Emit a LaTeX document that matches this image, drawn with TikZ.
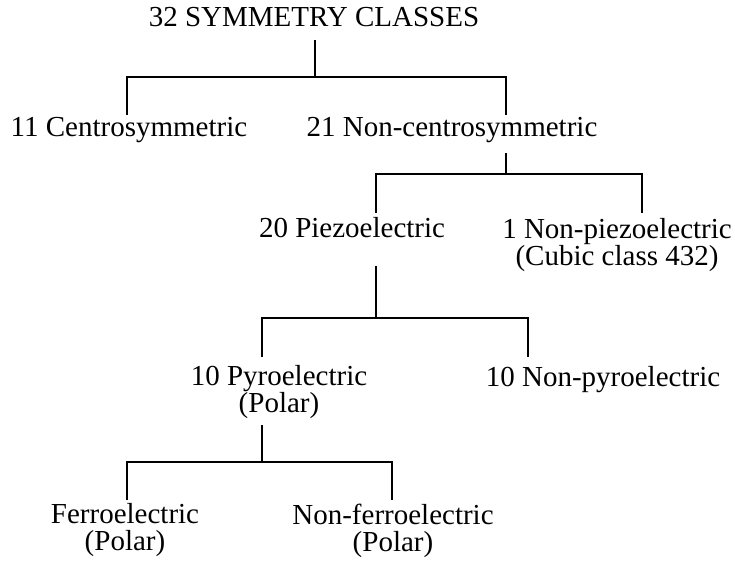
\documentclass[tikz,border=0pt]{standalone}
\usepackage{fontspec}
\setmainfont{Liberation Serif}

\tikzset{
  cls/.style = {inner sep = 0pt, anchor = base, align = center, font = \fontsize{29}{27}\selectfont},
  branch/.style = {black, line width = 2.2pt}
}

\begin{document}
\begin{tikzpicture}[x = 1pt, y = -1pt]
\useasboundingbox (0,0) rectangle (735,561);
% class labels (two-line labels sit on their last baseline)
\node [cls] (title) at (314,27) {32 SYMMETRY CLASSES};
\node [cls] (centro) at (129,137) {11 Centrosymmetric};
\node [cls] (noncentro) at (452,137) {21 Non-centrosymmetric};
\node [cls] (piezo) at (352,237) {20 Piezoelectric};
\node [cls] (nonpiezo) at (617,265) {1 Non-piezoelectric\\(Cubic class 432)};
\node [cls] (pyro) at (279,412) {10 Pyroelectric\\(Polar)};
\node [cls] (nonpyro) at (603,386) {10 Non-pyroelectric};
\node [cls] (ferro) at (125,550) {Ferroelectric\\(Polar)};
\node [cls] (nonferro) at (393,551) {Non-ferroelectric\\(Polar)};
% stems and junctions
\coordinate (t1) at (315,40);  \coordinate (j1) at (315,77);
\coordinate (t2) at (506,153); \coordinate (j2) at (506,174);
\coordinate (t3) at (376,266); \coordinate (j3) at (376,318);
\coordinate (t4) at (262,425); \coordinate (j4) at (262,462);
% leaf ends
\coordinate (e1) at (127,115); \coordinate (e2) at (506,115);
\coordinate (e3) at (376,213); \coordinate (e4) at (642,213);
\coordinate (e5) at (262,357); \coordinate (e6) at (528,357);
\coordinate (e7) at (127,500); \coordinate (e8) at (392,500);
% tree
\draw [branch] (t1) -- (j1);
\draw [branch] (e1) -- (e1 |- j1) -- (e2 |- j1) -- (e2);
\draw [branch] (t2) -- (j2);
\draw [branch] (e3) -- (e3 |- j2) -- (e4 |- j2) -- (e4);
\draw [branch] (t3) -- (j3);
\draw [branch] (e5) -- (e5 |- j3) -- (e6 |- j3) -- (e6);
\draw [branch] (t4) -- (j4);
\draw [branch] (e7) -- (e7 |- j4) -- (e8 |- j4) -- (e8);
\end{tikzpicture}
\end{document}
